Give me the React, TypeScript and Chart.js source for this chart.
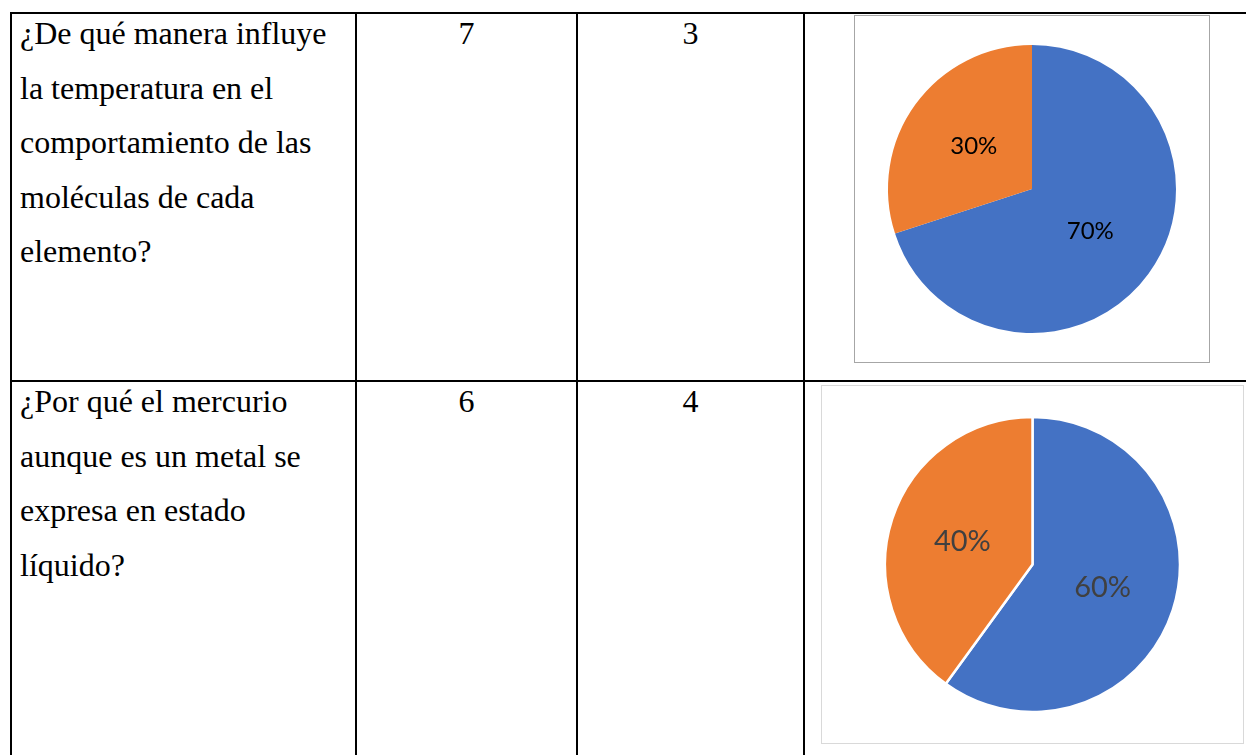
import React, { useEffect, useRef } from "react";
import { Chart, registerables } from "chart.js";

Chart.register(...registerables);

// ---- data ----
const questionLines1 = [
  "¿De qué manera influye",
  "la temperatura en el",
  "comportamiento de las",
  "moléculas de cada",
  "elemento?",
];
const questionLines2 = [
  "¿Por qué el mercurio",
  "aunque es un metal se",
  "expresa en estado",
  "líquido?",
];
const firstCounts = [7, 6];
const secondCounts = [3, 4];
const sliceLabels = ["Sí", "No"];
const sliceColors = ["#4472C4", "#ED7D31"];

const labelPlugin = {
  id: "pctLabels",
  afterDatasetsDraw(chart: any, _args: any, opts: any) {
    const ctx = chart.ctx;
    const ds = chart.data.datasets[0];
    const vals = ds.data as number[];
    const total = vals.reduce((a, b) => a + b, 0);
    const meta = chart.getDatasetMeta(0);
    ctx.save();
    ctx.font = opts.font;
    ctx.fillStyle = opts.color;
    ctx.textAlign = "center";
    ctx.textBaseline = "middle";
    meta.data.forEach((arc: any, i: number) => {
      const p = arc.tooltipPosition();
      const txt = Math.round((vals[i] / total) * 100) + "%";
      ctx.fillText(txt, p.x, p.y);
    });
    ctx.restore();
  },
};

function PieChart(props: {
  values: number[];
  width: number;
  height: number;
  radius: number;
  border: number;
  font: string;
  color: string;
}) {
  const ref = useRef<HTMLCanvasElement | null>(null);
  useEffect(() => {
    if (!ref.current) return;
    const chart = new Chart(ref.current, {
      type: "pie",
      data: {
        labels: sliceLabels,
        datasets: [
          {
            data: props.values,
            backgroundColor: sliceColors,
            borderColor: "#ffffff",
            borderWidth: props.border,
            hoverOffset: 0,
          },
        ],
      },
      options: {
        responsive: false,
        animation: false,
        events: [],
        radius: props.radius,
        layout: { padding: 0 },
        plugins: {
          legend: { display: false },
          tooltip: { enabled: false },
          pctLabels: { font: props.font, color: props.color },
        } as any,
      } as any,
      plugins: [labelPlugin],
    });
    return () => chart.destroy();
  }, []);
  return (
    <canvas
      ref={ref}
      width={props.width}
      height={props.height}
      style={{ display: "block", width: props.width, height: props.height }}
    />
  );
}

const LINE = "#000";

function HLine({ y }: { y: number }) {
  return (
    <div
      style={{ position: "absolute", left: 10, top: y, width: 1236, height: 2, background: LINE }}
    />
  );
}
function VLine({ x }: { x: number }) {
  return (
    <div
      style={{ position: "absolute", left: x, top: 12, width: 2, height: 743, background: LINE }}
    />
  );
}

const serif: React.CSSProperties = {
  position: "absolute",
  fontFamily: "'Liberation Serif', 'Times New Roman', serif",
  fontSize: 32,
  lineHeight: "54.5px",
  color: "#000",
  whiteSpace: "pre",
};

export default function App() {
  return (
    <div
      style={{
        position: "absolute",
        left: 0,
        top: 0,
        width: 1246,
        height: 755,
        overflow: "hidden",
        background: "#fff",
      }}
    >
      <HLine y={12} />
      <HLine y={380} />
      <VLine x={10} />
      <VLine x={355} />
      <VLine x={576} />
      <VLine x={803} />

      <div style={{ ...serif, left: 20, top: 6 }}>{questionLines1.join("\n")}</div>
      <div style={{ ...serif, left: 20, top: 374 }}>{questionLines2.join("\n")}</div>

      <div style={{ ...serif, left: 357, width: 219, top: 6, textAlign: "center" }}>
        {String(firstCounts[0])}
      </div>
      <div style={{ ...serif, left: 578, width: 225, top: 6, textAlign: "center" }}>
        {String(secondCounts[0])}
      </div>
      <div style={{ ...serif, left: 357, width: 219, top: 374, textAlign: "center" }}>
        {String(firstCounts[1])}
      </div>
      <div style={{ ...serif, left: 578, width: 225, top: 374, textAlign: "center" }}>
        {String(secondCounts[1])}
      </div>

      <div
        style={{
          position: "absolute",
          left: 854,
          top: 15,
          width: 354,
          height: 346,
          border: "1px solid #a6a6a6",
        }}
      >
        <PieChart
          values={[firstCounts[0], secondCounts[0]]}
          width={354}
          height={346}
          radius={144}
          border={0}
          font="24px Lato, 'Open Sans', sans-serif"
          color="#000000"
        />
      </div>

      <div
        style={{
          position: "absolute",
          left: 821,
          top: 385,
          width: 421,
          height: 357,
          border: "1px solid #d9d9d9",
        }}
      >
        <PieChart
          values={[firstCounts[1], secondCounts[1]]}
          width={421}
          height={357}
          radius={147.5}
          border={2.5}
          font="29px Lato, 'Open Sans', sans-serif"
          color="#404040"
        />
      </div>
    </div>
  );
}
